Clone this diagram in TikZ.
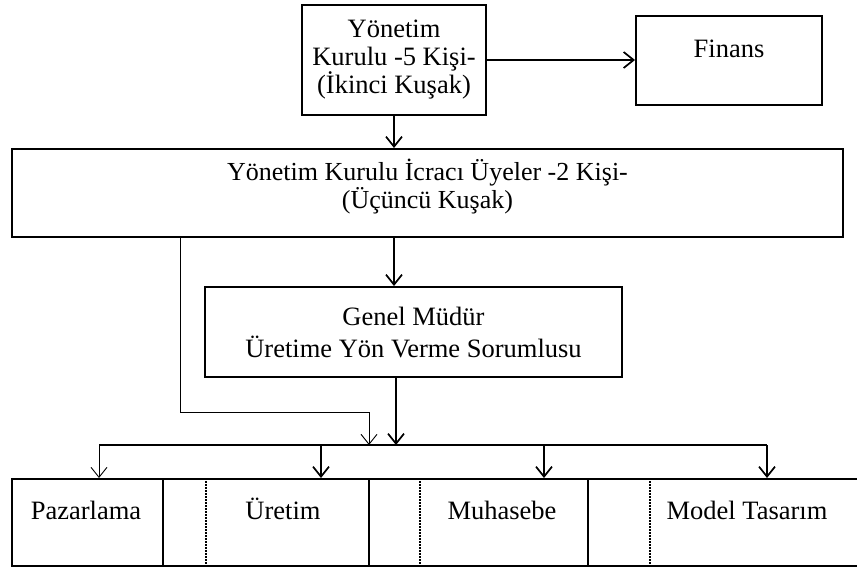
\documentclass[tikz,border=0pt]{standalone}
\usepackage{fontspec}
\setmainfont{Liberation Serif}
\usetikzlibrary{arrows.meta}

\begin{document}
\begin{tikzpicture}[x=1pt,y=-1pt,>={Straight Barb[length=10pt,width=16pt]},
    box/.style={draw,line width=2pt,inner sep=0pt,align=center},
    dept/.style={anchor=base},
    conn/.style={->,line width=1.7pt},
    thinconn/.style={->,line width=0.9pt},
    every node/.style={font=\fontsize{26.5}{28}\selectfont}]
  \useasboundingbox (0,0) rectangle (857,571);
  \node[box,minimum width=184pt,minimum height=110pt] (yk) at (394,60) {Yönetim\\Kurulu -5 Kişi-\\(İkinci Kuşak)};
  \node[box,minimum width=186pt,minimum height=89pt,label={[yshift=11.5pt]center:Finans}] (fin) at (729,60.5) {};
  \node[box,minimum width=831pt,minimum height=88pt,
    label={[align=center,yshift=6.5pt,font=\fontsize{26}{23}\selectfont]center:Yönetim Kurulu İcracı Üyeler -2 Kişi-\\(Üçüncü Kuşak)}] (icra) at (427.5,193) {};
  \node[box,minimum width=417pt,minimum height=90pt,font=\fontsize{26.5}{32}\selectfont] (gm) at (413.5,332) {Genel Müdür\\Üretime Yön Verme Sorumlusu};
  \node[box,minimum width=848pt,minimum height=87pt] (row) at (436,522.5) {};
  \node[dept] (paz) at (86,519) {Pazarlama};
  \node[dept] (ure) at (283,519) {Üretim};
  \node[dept] (muh) at (502,519) {Muhasebe};
  \node[dept] (mod) at (747,519) {Model Tasarım};
  \foreach \x in {163,369,588}
    \draw[line width=2pt] (\x,0 |- row.north) -- (\x,0 |- row.south);
  \foreach \x in {206,420,650}
    \draw[line width=1.5pt,dash pattern=on 1.5pt off 1.5pt,shorten <=3pt,shorten >=3pt] (\x,0 |- row.north) -- (\x,0 |- row.south);
  % bus and connectors
  \coordinate (bus) at (396,445);
  \coordinate (busl) at (99,445);
  \coordinate (busr) at (767,445);
  \coordinate (ara) at (369,445);
  \coordinate (kose) at (180,412);
  \draw[conn] (yk) -- (yk -| fin.west);
  \draw[conn] (yk.south) -- (yk.south |- icra.north);
  \draw[conn] (yk.south |- icra.south) -- (yk.south |- gm.north);
  \draw[conn] (gm.south -| bus) -- (bus);
  \draw[thinconn] (icra.south -| kose) -- (kose) -| (ara);
  \draw[line width=1.7pt] (busl) -- (busr);
  \draw[thinconn] (busl) -- (busl |- row.north);
  \foreach \x in {321,544}
    \draw[conn] (\x,445) -- (\x,0 |- row.north);
  \draw[conn] (busr) -- (busr |- row.north);
\end{tikzpicture}
\end{document}
